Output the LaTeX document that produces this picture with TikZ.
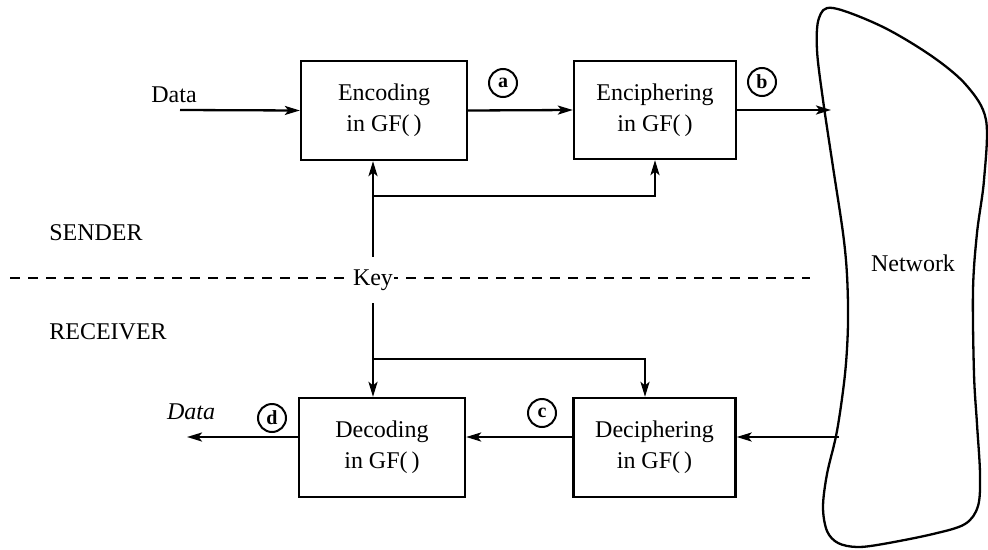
\documentclass[tikz,border=0pt]{standalone}
\usepackage{fontspec}
\setmainfont{Liberation Serif}
\usetikzlibrary{arrows.meta}
\begin{document}
\begin{tikzpicture}[x=1pt,y=-1pt,
  every node/.style={font=\fontsize{24}{31}\selectfont},
  blk/.style={draw, line width=2.3pt, align=center, inner sep=0pt},
  lbl/.style={draw, circle, line width=2pt, minimum size=28pt, inner sep=0pt, font=\fontsize{20}{20}\selectfont\bfseries},
  conn/.style={line width=2.3pt},
  arr/.style={conn, -{Stealth[length=15pt,width=9pt,inset=3.5pt]}},
]
\useasboundingbox (0,0) rectangle (988,549);

% network cloud
\draw[line width=2.3pt] plot[smooth cycle, tension=0.55] coordinates {
  (833,8) (883,27) (933,57) (967,86) (986,120) (984,180) (977,233) (973,290)
  (974,374) (977,424) (980,474) (978,506) (965,524) (933,534) (883,544)
  (857,547) (838,543) (827,531) (823,507) (827,474) (837,431) (845,374)
  (848,324) (847,275) (843,233) (833,167) (823,100) (817,50) (819,18)};
\node (net) at (913,263) {Network};

% boxes
\node[blk, minimum width=166pt, minimum height=99pt] (enc) at (384,110.5) {Encoding\\in GF(\,)};
\node[blk, minimum width=162pt, minimum height=98pt] (enciph) at (655,110) {Enciphering\\in GF(\,)};
\node[blk, minimum width=166pt, minimum height=99pt] (dec) at (382,447.5) {Decoding\\in GF(\,)};
\node[blk, minimum width=162pt, minimum height=99pt] (decip) at (654.5,447.5) {Deciphering\\in GF(\,)};

% side labels
\node (sender) at (96,233) {SENDER};
\node (receiver) at (108,332) {RECEIVER};

% dashed separator and key
\draw[conn, dash pattern=on 10pt off 8pt] (10,278) -- (810,278);
\node[fill=white, inner xsep=1pt, inner ysep=0pt, minimum height=46pt] (key) at (373,280) {Key};

% key distribution
\coordinate (kb1) at (373,196);
\coordinate (kb2) at (373,359);
\coordinate (kb2e) at (645,359);
\draw[arr] (key.north) -- (key.north |- enc.south);
\draw[arr] (kb1) -| (enciph.south);
\draw[arr] (key.south) -- (key.south |- dec.north);
\draw[arr] (kb2) -| (kb2e |- decip.north);

% sender data path
\node (din) at (174,95) {Data};
\coordinate (dstart) at (180,110);
\draw[arr] (dstart) -- (enc.west);
\draw[arr] (enc.east) -- (enciph.west);
\coordinate (netin) at (831,110);
\draw[arr] (enciph.east) -- (netin);
\node[lbl] (a) at (503,83) {a};
\node[lbl] (b) at (762,82) {b};

% receiver data path
\coordinate (netout) at (839,437);
\coordinate (dout) at (187,437);
\draw[arr] (netout) -- (decip.east |- netout);
\draw[arr] (decip.west |- netout) -- (dec.east |- netout);
\draw[arr] (dec.west |- netout) -- (dout);
\node[font=\fontsize{24}{31}\selectfont\itshape] (dtext) at (191,412) {Data};
\node[lbl] (c) at (542,413) {c};
\node[lbl] (d) at (272,418) {d};
\end{tikzpicture}
\end{document}
